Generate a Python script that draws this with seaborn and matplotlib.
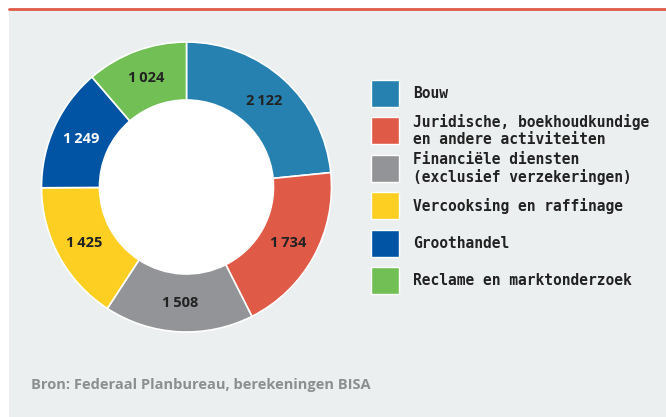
import matplotlib
matplotlib.use("Agg")
import matplotlib.pyplot as plt
import seaborn as sns
import numpy as np
from matplotlib.patches import Rectangle

# data
categories = [
    "Bouw",
    "Juridische, boekhoudkundige\nen andere activiteiten",
    "Financiële diensten\n(exclusief verzekeringen)",
    "Vercooksing en raffinage",
    "Groothandel",
    "Reclame en marktonderzoek",
]
values = [2122, 1734, 1508, 1425, 1249, 1024]
colors = ["#2681b0", "#e05a48", "#939497", "#fecf23", "#0054a3", "#72c055"]
label_colors = ["#222222", "#222222", "#222222", "#222222", "#ffffff", "#222222"]
source = "Bron: Federaal Planbureau, berekeningen BISA"

sns.set_theme(style="white")
plt.rcParams["font.family"] = ["DejaVu Sans"]

W, H = 666, 417
fig = plt.figure(figsize=(W / 100, H / 100), dpi=100)
fig.patch.set_facecolor("white")

# panel background and red top rule
fig.patches.append(Rectangle((9 / W, 0), 1, (H - 10) / H, transform=fig.transFigure,
                             facecolor="#ebeff0", edgecolor="none", zorder=-2))
fig.lines.append(plt.Line2D([9 / W, 1], [(H - 9) / H, (H - 9) / H], transform=fig.transFigure,
                            color="#e05a48", lw=2, zorder=-1))

# donut
cx, cy, r = 186.5, 187, 145
ax = fig.add_axes([(cx - r) / W, (H - cy - r) / H, 2 * r / W, 2 * r / H])
ax.set_zorder(1)
ax.set_facecolor("none")
wedges, _ = ax.pie(values, colors=colors, startangle=90, counterclock=False,
                   radius=1, wedgeprops=dict(width=0.4, edgecolor="white", linewidth=1.2))
ax.add_patch(plt.Circle((0, 0), 0.6, color="white", zorder=0))
for w, v, lc in zip(wedges, values, label_colors):
    ang = np.deg2rad((w.theta1 + w.theta2) / 2)
    txt = f"{v:,}".replace(",", "\u2009")
    ax.text(0.8 * np.cos(ang), 0.8 * np.sin(ang), txt, ha="center", va="center",
            fontsize=10.5, fontweight="bold", color=lc, family=["Open Sans", "DejaVu Sans"])
ax.set_xlim(-1, 1)
ax.set_ylim(-1, 1)
ax.set_aspect("equal")
ax.axis("off")

# legend
for i, (cat, col) in enumerate(zip(categories, colors)):
    top = 80 + i * 37.4
    fig.patches.append(Rectangle((371 / W, (H - top - 27) / H), 28 / W, 27 / H,
                                 transform=fig.transFigure, facecolor=col,
                                 edgecolor="white", lw=1, zorder=2))
    fig.text(413 / W, (H - top - 13.5) / H, cat, ha="left", va="center",
             fontsize=10.5, fontweight="bold", family="DejaVu Sans Mono",
             color="#222222", linespacing=1.15)

fig.text(31 / W, (H - 385) / H, source, ha="left", va="center", fontsize=10.5,
         fontweight="bold", color="#8c8e90", family=["Open Sans", "DejaVu Sans"])

fig.savefig("out.png", dpi=100, facecolor=fig.get_facecolor())
